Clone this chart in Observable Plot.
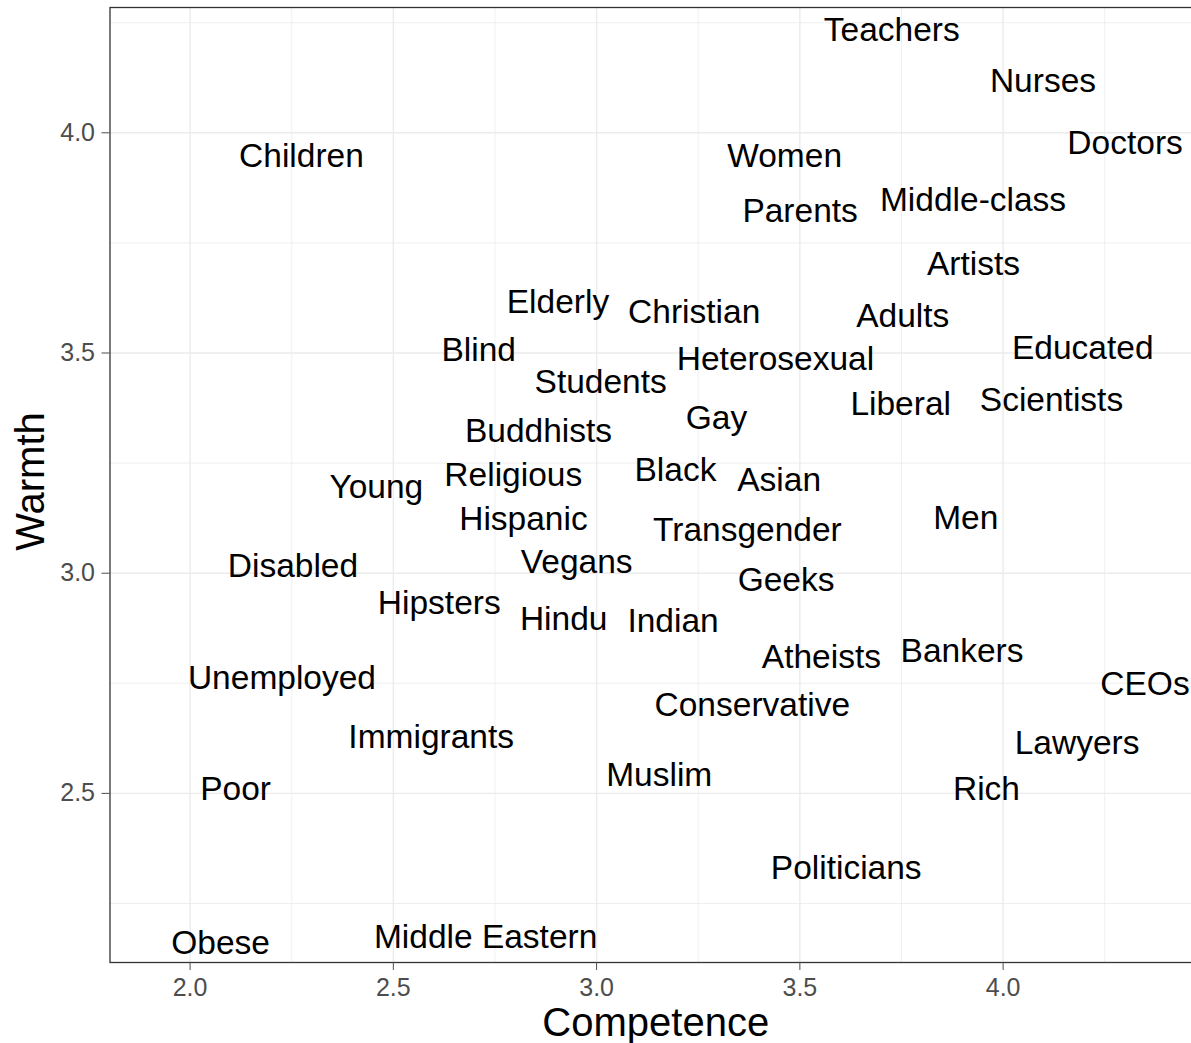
<!DOCTYPE html>
<html>
<head>
<meta charset="utf-8">
<script src="https://cdn.jsdelivr.net/npm/d3@7"></script>
<script src="https://cdn.jsdelivr.net/npm/@observablehq/plot@0.6"></script>
<style>
  html, body { margin: 0; padding: 0; background: #ffffff; }
  #wrap { width: 1191px; height: 1043px; overflow: hidden; background: #ffffff; }
  #wrap svg { max-width: none !important; height: 1043px !important; display: block; }
</style>
</head>
<body>
<div id="wrap"></div>
<script>
const names = ["Teachers","Nurses","Doctors","Children","Women","Parents","Middle-class","Artists",
  "Elderly","Christian","Adults","Blind","Educated","Heterosexual","Students","Liberal","Scientists",
  "Gay","Buddhists","Black","Religious","Asian","Young","Hispanic","Transgender","Men","Disabled",
  "Vegans","Geeks","Hipsters","Hindu","Indian","Atheists","Bankers","Unemployed","CEOs","Conservative",
  "Immigrants","Lawyers","Muslim","Poor","Rich","Politicians","Obese","Middle Eastern"];
const competence = [3.726,4.098,4.300,2.274,3.4625,3.5006,3.926,3.927,
  2.905,3.240,3.753,2.710,4.196,3.440,3.010,3.748,4.119,
  3.295,2.857,3.194,2.795,3.449,2.458,2.820,3.371,3.908,2.253,
  2.951,3.466,2.613,2.919,3.188,3.553,3.899,2.226,4.349,3.383,
  2.593,4.182,3.154,2.112,3.959,3.614,2.075,2.727];
const warmth = [4.232,4.116,3.976,3.946,3.946,3.821,3.846,3.701,
  3.615,3.592,3.583,3.506,3.510,3.485,3.433,3.383,3.392,
  3.351,3.322,3.233,3.222,3.210,3.195,3.122,3.097,3.124,3.015,
  3.024,2.983,2.931,2.895,2.890,2.809,2.822,2.761,2.747,2.700,
  2.627,2.613,2.541,2.509,2.509,2.329,2.159,2.173];
const majorX = [2.0, 2.5, 3.0, 3.5, 4.0];
const minorX = [2.25, 2.75, 3.25, 3.75, 4.25];
const majorY = [2.5, 3.0, 3.5, 4.0];
const minorY = [2.25, 2.75, 3.25, 3.75, 4.25];
const xTitle = "Competence";
const yTitle = "Warmth";

const groups = names.map((n, i) => ({name: n, competence: competence[i], warmth: warmth[i]}));
const fmt = d3.format(".1f");

const chart = Plot.plot({
  width: 1201,
  height: 1043,
  marginLeft: 109.5,
  marginRight: 0,
  marginTop: 7,
  marginBottom: 81,
  style: {fontFamily: "'Liberation Sans', Arial, Helvetica, sans-serif", background: "#ffffff", maxWidth: "none"},
  x: {domain: [1.803, 4.488]},
  y: {domain: [2.116, 4.2845]},
  marks: [
    Plot.ruleX(minorX, {stroke: "#EBEBEB", strokeWidth: 0.8}),
    Plot.ruleY(minorY, {stroke: "#EBEBEB", strokeWidth: 0.8}),
    Plot.ruleX(majorX, {stroke: "#EBEBEB", strokeWidth: 1.4}),
    Plot.ruleY(majorY, {stroke: "#EBEBEB", strokeWidth: 1.4}),
    Plot.frame({stroke: "#333333", strokeWidth: 1.3}),
    Plot.axisX({ticks: majorX, tickFormat: fmt, tickSize: 8, tickPadding: 8, fontSize: 25, color: "#4D4D4D", label: null}),
    Plot.axisY({ticks: majorY, tickFormat: fmt, tickSize: 8, tickPadding: 7, fontSize: 25, color: "#4D4D4D", label: null}),
    Plot.text(groups, {x: "competence", y: "warmth", text: "name", fontSize: 33.5, fill: "#000000"}),
    Plot.text([xTitle], {frameAnchor: "bottom", dy: 60.5, textAnchor: "middle", lineAnchor: "middle", fontSize: 40, fill: "#000000"}),
    Plot.text([yTitle], {frameAnchor: "left", dx: -78.5, dy: -3.5, rotate: -90, textAnchor: "middle", lineAnchor: "middle", fontSize: 40, fill: "#000000"})
  ]
});
document.getElementById("wrap").appendChild(chart);
</script>
</body>
</html>
